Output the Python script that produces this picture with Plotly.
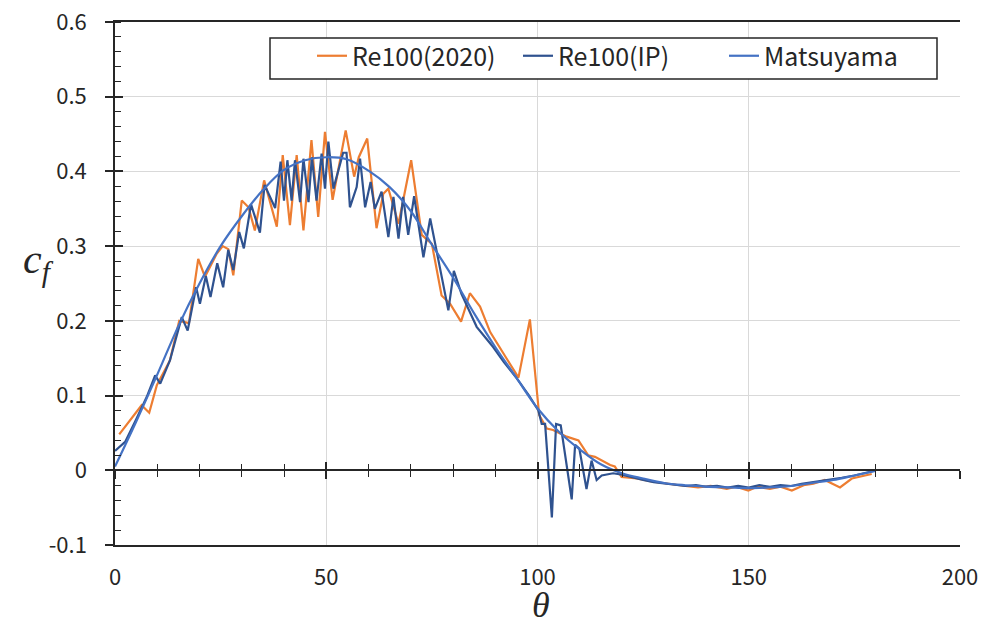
import plotly.graph_objects as go

# ---------------- data ----------------
theta_2020 = [1.0, 6.3, 8.1, 9.9, 13.0, 15.2, 17.5, 19.7, 21.3, 24.1, 25.5, 26.8, 28.0, 30.0, 31.6,
              33.1, 35.3, 38.3, 39.7, 41.4, 43.0, 44.6, 46.5, 48.1, 49.7, 51.5, 54.6, 56.6, 57.7,
              59.7, 61.9, 63.5, 64.7, 67.1, 70.1, 72.6, 75.0, 77.3, 79.3, 81.9, 84.0, 86.4, 88.8,
              92.0, 95.5, 98.2, 100.4, 102.2, 103.7, 106.9, 109.7, 112.0, 113.6, 117.2, 118.3,
              119.9, 123.5, 127.0, 131.6, 135.0, 138.0, 141.0, 144.8, 147.0, 149.9, 152.0, 155.0,
              157.5, 160.2, 163.0, 165.3, 168.0, 171.6, 174.4, 179.1]
cf_2020 = [0.048, 0.087, 0.077, 0.114, 0.147, 0.200, 0.197, 0.283, 0.259, 0.290, 0.300, 0.296, 0.261,
           0.361, 0.352, 0.321, 0.388, 0.326, 0.422, 0.328, 0.422, 0.321, 0.442, 0.339, 0.453,
           0.362, 0.455, 0.393, 0.419, 0.444, 0.324, 0.370, 0.377, 0.330, 0.415, 0.315, 0.303,
           0.234, 0.223, 0.199, 0.237, 0.219, 0.185, 0.155, 0.124, 0.202, 0.074, 0.056, 0.054,
           0.045, 0.040, 0.020, 0.018, 0.007, 0.005, -0.009, -0.011, -0.015, -0.019, -0.021,
           -0.023, -0.021, -0.025, -0.022, -0.027, -0.022, -0.025, -0.022, -0.027, -0.020,
           -0.018, -0.013, -0.023, -0.011, -0.005]

theta_ip = [0.0, 2.4, 5.0, 7.5, 9.5, 10.7, 13.0, 15.8, 17.2, 19.2, 20.1, 21.5, 22.6, 24.2, 25.6,
            26.8, 28.0, 29.4, 30.5, 32.2, 34.3, 35.4, 37.9, 39.2, 40.0, 40.8, 41.8, 42.6, 43.8,
            44.6, 45.8, 46.6, 47.7, 48.9, 49.7, 50.5, 51.7, 54.0, 54.8, 55.6, 57.2, 58.0, 59.2,
            60.5, 61.5, 63.1, 64.7, 65.9, 67.1, 68.2, 69.4, 70.8, 73.0, 74.6, 78.9, 80.2, 82.0,
            85.6, 89.5, 92.0, 95.1, 98.0, 100.2, 101.0, 101.8, 103.4, 104.4, 105.5, 108.1, 108.9,
            109.9, 111.6, 112.8, 114.0, 115.2, 117.9, 120.0, 122.5, 125.0, 127.5, 130.0, 132.5,
            135.0, 137.5, 140.0, 142.5, 145.0, 147.5, 150.0, 152.5, 155.0, 157.5, 160.0, 162.5,
            165.0, 167.5, 169.2, 172.0, 175.0, 177.5, 179.5]
cf_ip = [0.026, 0.038, 0.068, 0.098, 0.127, 0.116, 0.147, 0.205, 0.187, 0.245, 0.223, 0.260, 0.232,
         0.277, 0.245, 0.295, 0.268, 0.319, 0.297, 0.356, 0.318, 0.382, 0.351, 0.413, 0.361, 0.415,
         0.361, 0.415, 0.359, 0.417, 0.359, 0.419, 0.361, 0.424, 0.377, 0.440, 0.377, 0.425, 0.425,
         0.352, 0.379, 0.417, 0.352, 0.386, 0.350, 0.373, 0.312, 0.366, 0.310, 0.366, 0.315, 0.367,
         0.285, 0.337, 0.214, 0.267, 0.236, 0.192, 0.165, 0.145, 0.123, 0.100, 0.080, 0.062, 0.062,
         -0.063, 0.062, 0.060, -0.039, 0.034, 0.029, -0.025, 0.013, -0.013, -0.007, -0.004, -0.006,
         -0.010, -0.013, -0.016, -0.018, -0.019, -0.021, -0.020, -0.022, -0.021, -0.023, -0.021,
         -0.023, -0.020, -0.022, -0.020, -0.021, -0.018, -0.016, -0.013, -0.012, -0.010, -0.007,
         -0.004, -0.001]

theta_mats = [0, 5, 10, 15, 20, 25, 30, 35, 40, 45, 50, 55, 60, 65, 70, 75, 80, 85, 90, 95, 100,
              105, 110, 115, 120, 125, 130, 135, 140, 145, 150, 155, 160, 165, 170, 175, 180]
cf_mats = [0.005, 0.065, 0.128, 0.193, 0.250, 0.300, 0.340, 0.375, 0.402, 0.415, 0.419, 0.416,
           0.401, 0.379, 0.347, 0.302, 0.258, 0.210, 0.165, 0.124, 0.083, 0.052, 0.028, 0.008,
           -0.004, -0.011, -0.017, -0.020, -0.022, -0.023, -0.024, -0.023, -0.021, -0.017,
           -0.013, -0.007, -0.001]

x_ticks = [0, 50, 100, 150, 200]
y_ticks = [-0.1, 0.0, 0.1, 0.2, 0.3, 0.4, 0.5, 0.6]
y_tick_text = ["-0.1", "0", "0.1", "0.2", "0.3", "0.4", "0.5", "0.6"]

# ---------------- figure ----------------
FONT = "Noto Sans CJK JP"
AX = "#262626"
GRID = "#d9d9d9"
L, R, T, B = 115, 25, 22, 80
PW, PH = 985 - L - R, 625 - T - B


def px_x(p):
    return (p - L) / PW


def px_y(p):
    return (625 - B - p) / PH


fig = go.Figure()
fig.add_trace(go.Scatter(x=theta_2020, y=cf_2020, mode="lines", name="Re100(2020)",
                         line=dict(color="#ED7D31", width=2.2)))
fig.add_trace(go.Scatter(x=theta_ip, y=cf_ip, mode="lines", name="Re100(IP)",
                         line=dict(color="#2F528F", width=2.2)))
fig.add_trace(go.Scatter(x=theta_mats, y=cf_mats, mode="lines", name="Matsuyama",
                         line=dict(color="#4472C4", width=2.2, shape="spline")))

# helper traces so the overlay axes (zero line with crossing ticks) are drawn
for xa, ya in [("x2", "y"), ("x3", "y"), ("x", "y2")]:
    fig.add_trace(go.Scatter(x=[None], y=[None], xaxis=xa, yaxis=ya, showlegend=False,
                             hoverinfo="skip", mode="lines"))

fig.update_layout(
    width=985, height=625,
    margin=dict(l=L, r=R, t=T, b=B, autoexpand=False),
    paper_bgcolor="white", plot_bgcolor="white",
    font=dict(family=FONT, size=22, color=AX),
    showlegend=True,
    legend=dict(orientation="h", x=px_x(312), y=px_y(33), xanchor="left", yanchor="top",
                bgcolor="rgba(0,0,0,0)", borderwidth=0, font=dict(family=FONT, size=25, color=AX),
                itemwidth=30, entrywidth=161, entrywidthmode="pixels"),
    xaxis=dict(range=[0, 200], tickmode="array", tickvals=x_ticks, showgrid=True,
               gridcolor=GRID, gridwidth=1.3, showline=True, mirror=True, linecolor=AX,
               linewidth=1.5, ticks="", zeroline=False, ticklabelstandoff=12, automargin=False,
               tickfont=dict(family=FONT, size=22, color=AX)),
    yaxis=dict(range=[-0.1, 0.6], tickmode="array", tickvals=y_ticks, ticktext=y_tick_text,
               showgrid=True, gridcolor=GRID, gridwidth=1.3, showline=True, linecolor=AX,
               linewidth=1.5, ticks="outside", ticklen=8, tickwidth=1.5, tickcolor=AX,
               minor=dict(tickmode="linear", tick0=0, dtick=0.02, ticks="inside", ticklen=6,
                          tickwidth=1.3, tickcolor=AX, showgrid=False),
               zeroline=False, ticklabelstandoff=14, automargin=False,
               tickfont=dict(family=FONT, size=22, color=AX)),
    yaxis2=dict(overlaying="y", anchor="x", side="left", range=[-0.1, 0.6], tickmode="array",
                tickvals=y_ticks, ticks="inside", ticklen=8, tickwidth=1.5, tickcolor=AX,
                showticklabels=False, showgrid=False, showline=False, zeroline=False,
                automargin=False),
    xaxis2=dict(overlaying="x", anchor="free", position=1 / 7, side="bottom", range=[0, 200],
                tickmode="linear", tick0=0, dtick=50, ticks="outside", ticklen=8, tickwidth=1.5,
                tickcolor=AX, minor=dict(tickmode="linear", tick0=0, dtick=10, ticks="outside",
                                         ticklen=6, tickwidth=1.3, tickcolor=AX),
                showline=True, linecolor=AX, linewidth=1.5, showticklabels=False,
                showgrid=False, zeroline=False, automargin=False),
    xaxis3=dict(overlaying="x", anchor="free", position=1 / 7, side="bottom", range=[0, 200],
                tickmode="linear", tick0=0, dtick=50, ticks="inside", ticklen=8, tickwidth=1.5,
                tickcolor=AX, minor=dict(tickmode="linear", tick0=0, dtick=10, ticks="inside",
                                         ticklen=6, tickwidth=1.3, tickcolor=AX),
                showline=False, showticklabels=False, showgrid=False, zeroline=False,
                automargin=False),
    shapes=[dict(type="rect", xref="paper", yref="paper",
                 x0=px_x(270), x1=px_x(937), y0=px_y(79), y1=px_y(38),
                 line=dict(color=AX, width=1.5), fillcolor="white", layer="above")],
    annotations=[
        dict(text="<i>c<sub>f</sub></i>", xref="paper", yref="paper",
             x=px_x(38), y=px_y(262), xanchor="center", yanchor="middle", showarrow=False,
             font=dict(family="Liberation Serif", size=42, color=AX)),
        dict(text="<i>θ</i>", xref="paper", yref="paper",
             x=px_x(541), y=px_y(605), xanchor="center", yanchor="middle", showarrow=False,
             font=dict(family="Liberation Serif", size=36, color=AX)),
    ],
)

fig.write_html("out.html")
